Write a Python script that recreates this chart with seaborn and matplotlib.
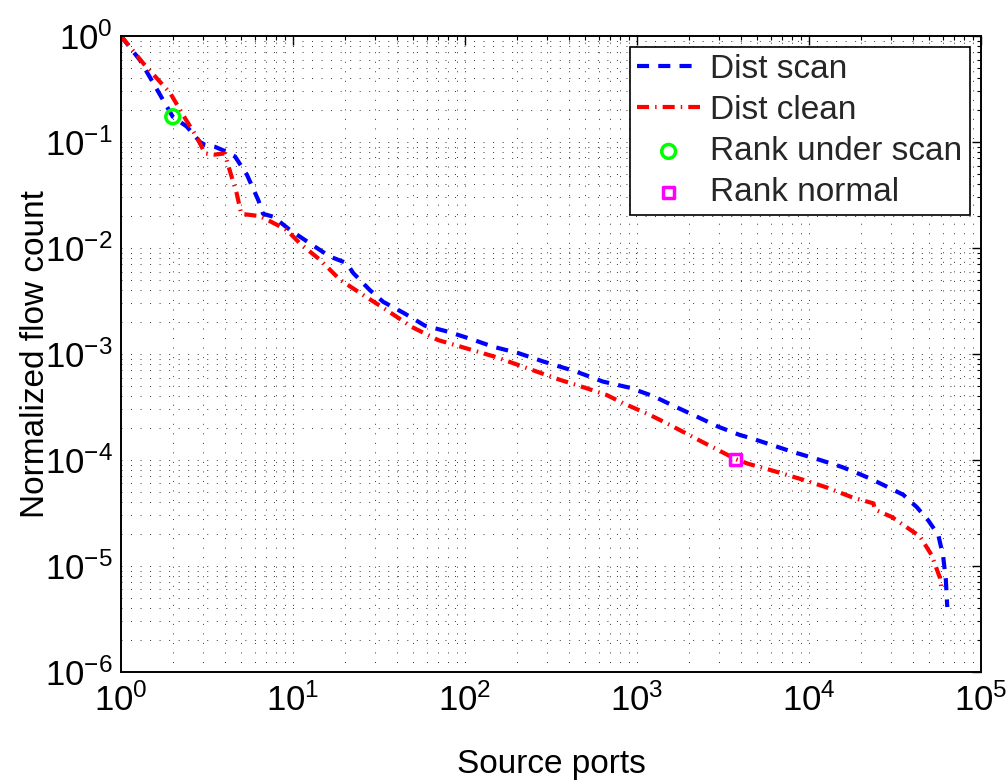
import numpy as np
import pandas as pd
import matplotlib
matplotlib.use("Agg")
import matplotlib.pyplot as plt
from matplotlib import font_manager
from matplotlib.ticker import LogLocator
import seaborn as sns

# Rank-ordered flow distributions over source ports
scan_ports = [1, 1.29, 1.54, 1.8, 2.0, 2.41, 2.88, 3.08, 3.52, 4.1, 4.6, 5.4, 6.3, 6.7,
              7.7, 9.6, 12.6, 16.4, 20.5, 22.4, 28, 33.5, 43.8, 58.5, 80, 109, 146, 204,
              285, 445, 632, 909, 1245, 1660, 2224, 2970, 3970, 4640, 6040, 7940, 11600,
              15500, 18100, 22600, 28400, 35300, 42300, 49300, 56500, 60300, 62500, 63700]
scan_counts = [1.0, 0.59, 0.36, 0.232, 0.173, 0.14, 0.1, 0.094, 0.09, 0.081, 0.073, 0.049,
               0.028, 0.021, 0.0197, 0.0148, 0.011, 0.0083, 0.0072, 0.0058, 0.004, 0.0031,
               0.00245, 0.00185, 0.00162, 0.00138, 0.00117, 0.00102, 0.00085, 0.00068,
               0.00055, 0.00048, 0.0004, 0.00032, 0.000257, 0.000206, 0.000172, 0.00016,
               0.000139, 0.00012, 0.0001, 8.6e-5, 7.8e-5, 6.7e-5, 5.6e-5, 4.7e-5, 3.6e-5,
               2.7e-5, 1.96e-5, 1.23e-5, 7.4e-6, 4.1e-6]

clean_ports = [1, 1.35, 1.93, 2.36, 2.75, 3.08, 3.5, 4.0, 4.7, 5.0, 6.4, 7.3, 9.2, 11,
               14.4, 18.8, 25.6, 35, 49, 70, 102, 153, 250, 357, 499, 667, 832, 1190, 1556,
               2270, 2970, 3740, 4440, 6200, 9270, 12700, 18100, 23700, 24200, 30300,
               34600, 44200, 51600, 57800, 59000]
clean_counts = [1.0, 0.55, 0.29, 0.167, 0.112, 0.078, 0.076, 0.078, 0.033, 0.021, 0.02,
                0.018, 0.0148, 0.011, 0.0077, 0.005, 0.0036, 0.0026, 0.0018, 0.00135,
                0.00113, 0.00093, 0.0007, 0.00057, 0.00048, 0.00041, 0.000343, 0.000266,
                0.000214, 0.000155, 0.000124, 0.000102, 9.2e-5, 7.9e-5, 6.5e-5, 5.5e-5,
                4.4e-5, 3.9e-5, 3.4e-5, 2.9e-5, 2.5e-5, 1.9e-5, 1.27e-5, 7.7e-6, 6e-6]

# Rank positions of the observed port
rank_scan_port = [2.0]
rank_scan_count = [0.173]
rank_normal_port = [3740]
rank_normal_count = [0.000102]

sns.set_theme(style="white")
plt.rcParams["font.family"] = ["Liberation Sans", "DejaVu Sans"]
plt.rcParams["mathtext.default"] = "regular"
plt.rcParams["mathtext.fontset"] = "custom"


def first_installed(names):
    for name in names:
        try:
            font_manager.findfont(name, fallback_to_default=False)
            return name
        except ValueError:
            continue
    return None


# Decade labels use a narrow face when one is installed
narrow = first_installed(["Liberation Sans Narrow", "DejaVu Sans Condensed",
                          "Roboto Condensed", "Open Sans Condensed"])
if narrow is not None:
    tick_family, tick_size, ylabel_x = narrow, 25, -0.081
else:
    tick_family, tick_size, ylabel_x = "Liberation Sans", 24, -0.088
plt.rcParams["mathtext.rm"] = tick_family
plt.rcParams["mathtext.it"] = tick_family
plt.rcParams["mathtext.bf"] = tick_family

fig = plt.figure(figsize=(10.06, 7.81), dpi=100)
ax = fig.add_axes([0.1203, 0.1396, 0.8548, 0.8143])
ax.set_xscale("log")
ax.set_yscale("log")

scan_df = pd.DataFrame({"port": scan_ports, "count": scan_counts})
clean_df = pd.DataFrame({"port": clean_ports, "count": clean_counts})

sns.lineplot(data=scan_df, x="port", y="count", ax=ax, color="#0000ff", lw=3.0,
             linestyle=(0, (2.9, 2.2)), label="Dist scan", sort=False)
sns.lineplot(data=clean_df, x="port", y="count", ax=ax, color="#ff0000", lw=3.0,
             linestyle=(0, (2.9, 1.45, 0.35, 1.45)), label="Dist clean", sort=False)
sns.scatterplot(x=rank_scan_port, y=rank_scan_count, ax=ax, marker="o", s=100,
                facecolor="none", edgecolor="#00ff00", linewidth=2.5,
                label="Rank under scan", zorder=5)
sns.scatterplot(x=rank_normal_port, y=rank_normal_count, ax=ax, marker="s", s=64,
                facecolor="none", edgecolor="#ff00ff", linewidth=2.5,
                label="Rank normal", zorder=5)

ax.set_xlim(1, 1e5)
ax.set_ylim(1e-6, 1)
ax.xaxis.set_major_locator(LogLocator(base=10, numticks=20))
ax.yaxis.set_major_locator(LogLocator(base=10, numticks=20))
ax.xaxis.set_minor_locator(LogLocator(base=10, subs=np.arange(2, 10), numticks=40))
ax.yaxis.set_minor_locator(LogLocator(base=10, subs=np.arange(2, 10), numticks=40))

ax.grid(True, which="both", color="#333333", linestyle=(0, (1, 8.8)), linewidth=0.7)
ax.set_axisbelow(True)

for sp in ax.spines.values():
    sp.set_color("black")
    sp.set_linewidth(1.4)

ax.tick_params(which="both", direction="in", top=True, right=True, colors="black",
               labelsize=tick_size)
ax.tick_params(which="major", length=6.5, width=1.0, pad=6)
ax.tick_params(which="minor", length=3, width=0.8)
ax.tick_params(axis="x", which="major", pad=8)

ax.set_xlabel("Source ports", fontsize=24, color="black")
ax.set_ylabel("Normalized flow count", fontsize=24, color="black")
ax.xaxis.set_label_coords(0.5, -0.121)
ax.yaxis.set_label_coords(ylabel_x, 0.5)

leg = ax.legend(loc="upper right", bbox_to_anchor=(0.987, 0.983), borderaxespad=0,
                fontsize=24, frameon=True, fancybox=False, framealpha=1,
                edgecolor="black", handlelength=1.9, handletextpad=0.3,
                labelspacing=0.3, borderpad=0.22, scatterpoints=1)
leg.get_frame().set_linewidth(1.2)

fig.savefig("out.png", dpi=100)
